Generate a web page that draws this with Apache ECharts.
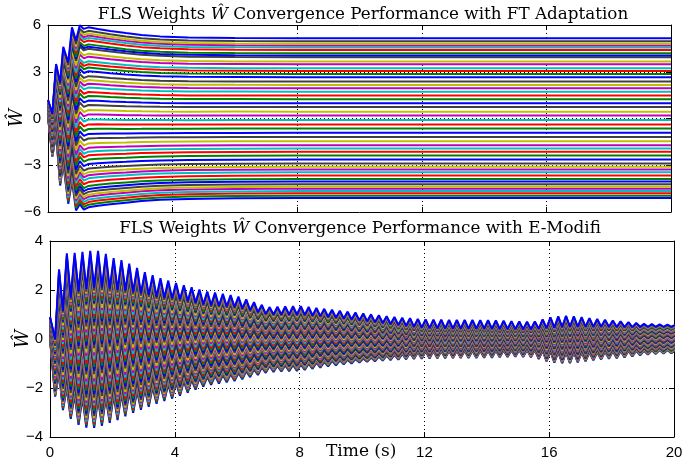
<!DOCTYPE html>
<html>
<head>
<meta charset="utf-8">
<script src="https://cdn.jsdelivr.net/npm/echarts@6/dist/echarts.min.js"></script>
<style>
  html, body { margin: 0; padding: 0; background: #fff; }
  #chart { width: 697px; height: 473px; }
</style>
</head>
<body>
<div id="chart"></div>
<script>
// MATLAB default line colour order
const lineColors = ['#0000ff', '#008000', '#ff0000', '#00bfbf', '#bf00bf', '#bfbf00', '#404040'];

// steady weight levels of the upper plot, bottom to top
const weightLevels = [
  -5.1, -4.95, -4.8, -4.66, -4.5, -4.38, -4.22, -4.05, -3.88, -3.66,
  -3.45, -3.27, -3.1, -2.89, -2.63, -2.38, -2.14, -1.93, -1.71, -1.46,
  -1.18, -0.92, -0.64, -0.38, -0.1,
  0.19, 0.44, 0.73, 0.98, 1.24, 1.47, 1.72, 1.94, 2.15, 2.37,
  2.65, 2.86, 3.05, 3.22, 3.48, 3.65, 3.93, 4.05, 4.18, 4.4,
  4.55, 4.68, 4.8, 4.95, 5.15
];

// upper plot (FT adaptation): outermost weights read at each knot
const ftTime = [0, 0.14, 0.26, 0.39, 0.49, 0.65, 0.77, 0.9, 1.02, 1.15, 1.3, 1.6, 2.0, 2.5, 3.0, 3.6, 4.5, 6, 8, 12, 20];
const ftHigh = [1.2, 0.3, 3.5, 2.3, 4.6, 3.6, 5.85, 5.0, 5.98, 5.75, 5.85, 5.75, 5.62, 5.48, 5.36, 5.27, 5.2, 5.17, 5.15, 5.15, 5.15];
const ftLow = [0.1, -2.45, -1.0, -4.3, -2.9, -5.47, -4.0, -5.9, -5.5, -5.85, -5.7, -5.6, -5.5, -5.4, -5.3, -5.22, -5.16, -5.12, -5.1, -5.1, -5.1];

// lower plot (e-modification): start band and envelope of the top / bottom weight
const emStart = [0.0, 0.9];
const emTime = [0.165, 0.29, 0.54, 0.8, 1.05, 1.3, 1.55, 1.8, 2.05, 2.3, 2.5, 3, 3.5, 4, 5, 6, 7, 8, 9, 10, 11, 12, 13, 14, 15, 15.5, 16, 16.5, 17, 17.5, 18, 18.5, 19, 19.5, 20];
const emTopPeak = [2.5, 2.84, 3.5, 3.52, 3.56, 3.6, 3.6, 3.47, 3.29, 3.22, 3.1, 2.75, 2.5, 2.3, 1.95, 1.75, 1.3, 1.35, 1.2, 1.05, 0.9, 0.8, 0.78, 0.77, 0.72, 0.7, 0.88, 0.95, 0.9, 0.82, 0.76, 0.7, 0.62, 0.6, 0.58];
const emTopTrough = [0.0, 0.8, 1.5, 1.9, 2.0, 2.1, 2.1, 2.1, 2.0, 2.0, 1.95, 1.85, 1.7, 1.65, 1.4, 1.3, 1.0, 1.0, 0.9, 0.75, 0.6, 0.45, 0.42, 0.42, 0.4, 0.4, 0.45, 0.5, 0.5, 0.5, 0.5, 0.48, 0.5, 0.5, 0.5];
const emBotPeak = [-0.5, -1.4, -2.0, -2.3, -2.4, -2.45, -2.45, -2.4, -2.3, -2.25, -2.2, -2.05, -1.9, -1.8, -1.55, -1.4, -1.1, -1.05, -0.9, -0.8, -0.65, -0.5, -0.48, -0.48, -0.45, -0.45, -0.5, -0.55, -0.55, -0.55, -0.5, -0.48, -0.48, -0.45, -0.45];
const emBotTrough = [-2.35, -2.7, -3.1, -3.44, -3.58, -3.65, -3.6, -3.47, -3.37, -3.24, -3.1, -2.85, -2.6, -2.4, -1.9, -1.7, -1.35, -1.3, -1.1, -0.95, -0.85, -0.8, -0.78, -0.77, -0.72, -0.75, -0.95, -1.0, -0.95, -0.85, -0.8, -0.75, -0.65, -0.6, -0.58];
const emPeriod = 0.25;   // oscillation period (s), counted off the plot
const emPhase = 0.04;

function envAt(times, vals, t) {
    if (t <= times[0]) return vals[0];
    for (let i = 1; i < times.length; i++) {
        if (t <= times[i]) {
            let r = (t - times[i - 1]) / (times[i] - times[i - 1]);
            return vals[i - 1] + r * (vals[i] - vals[i - 1]);
        }
    }
    return vals[vals.length - 1];
}

const lo = weightLevels[0], hi = weightLevels[weightLevels.length - 1];
const frac = weightLevels.map(v => (v - lo) / (hi - lo));

let series = [];
frac.forEach((g, i) => {
    let color = lineColors[i % lineColors.length];
    // upper plot
    let d1 = ftTime.map((t, k) => [t, ftLow[k] + g * (ftHigh[k] - ftLow[k])]);
    series.push({
        type: 'line', xAxisIndex: 0, yAxisIndex: 0, data: d1, showSymbol: false,
        lineStyle: {color: color, width: 2}, silent: true, animation: false
    });
    // lower plot
    let d2 = [[0, emStart[0] + g * (emStart[1] - emStart[0])]];
    for (let k = 1; emPhase + k * emPeriod / 2 <= 20.1; k++) {
        let t = emPhase + k * emPeriod / 2;
        let v;
        if (k % 2 === 0) {
            let a = envAt(emTime, emBotPeak, t), b = envAt(emTime, emTopPeak, t);
            v = a + g * (b - a);
        } else {
            let a = envAt(emTime, emBotTrough, t), b = envAt(emTime, emTopTrough, t);
            v = a + g * (b - a);
        }
        d2.push([t, v]);
    }
    series.push({
        type: 'line', xAxisIndex: 2, yAxisIndex: 2, data: d2, showSymbol: false,
        lineStyle: {color: color, width: 2}, silent: true, animation: false
    });
});

const tickFont = {fontFamily: 'Liberation Sans', fontSize: 15, color: '#000'};
const minus = v => String(v).replace('-', '\u2212');
const boxLine = {show: true, onZero: false, lineStyle: {color: '#000', width: 1}};
const gridDots = {show: true, lineStyle: {color: '#000', width: 1, type: [1, 3]}};
const tickIn = {show: true, inside: true, length: 5, lineStyle: {color: '#000'}};

function xPair(gi, showLabel) {
    return [
        {type: 'value', gridIndex: gi, min: 0, max: 20, interval: 4, position: 'bottom',
            axisLine: boxLine, axisTick: tickIn, splitLine: gridDots,
            axisLabel: Object.assign({show: showLabel, margin: 8}, tickFont)},
        {type: 'value', gridIndex: gi, min: 0, max: 20, interval: 4, position: 'top',
            axisLine: boxLine, axisTick: tickIn, splitLine: {show: false}, axisLabel: {show: false}}
    ];
}

function yPair(gi, min, max, step) {
    return [
        {type: 'value', gridIndex: gi, min: min, max: max, interval: step, position: 'left',
            axisLine: boxLine, axisTick: tickIn, splitLine: gridDots,
            axisLabel: Object.assign({margin: 7, formatter: minus}, tickFont)},
        {type: 'value', gridIndex: gi, min: min, max: max, interval: step, position: 'right',
            axisLine: boxLine, axisTick: tickIn, splitLine: {show: false}, axisLabel: {show: false}}
    ];
}

const titleRich = {
    a: {fontFamily: 'DejaVu Serif', fontWeight: 'normal', fontSize: 16.75, color: '#000'},
    b: {fontFamily: 'DejaVu Serif', fontWeight: 'normal', fontStyle: 'italic', fontSize: 16.75, color: '#000'}
};

function yName(x, y) {
    return {
        type: 'text', x: x, y: y, rotation: Math.PI / 2,
        style: {text: '\u0174', fontFamily: 'DejaVu Serif', fontStyle: 'italic', fontSize: 18,
            fill: '#000', align: 'center', verticalAlign: 'middle'}
    };
}

let option = {
    backgroundColor: '#fff',
    animation: false,
    title: [
        {text: '{a|FLS Weights }{b|\u0174}{a| Convergence Performance with FT Adaptation}',
            left: 358, top: 1, textAlign: 'center', textStyle: {rich: titleRich}},
        {text: '{a|FLS Weights }{b|\u0174}{a| Convergence Performance with E-Modifi}',
            left: 355, top: 215, textAlign: 'center', textStyle: {rich: titleRich}}
    ],
    grid: [
        {left: 48, right: 26, top: 25, height: 187, outerBoundsMode: 'none'},
        {left: 50, right: 23, top: 241, height: 196, outerBoundsMode: 'none'}
    ],
    xAxis: xPair(0, false).concat(xPair(1, true)),
    yAxis: yPair(0, -6, 6, 3).concat(yPair(1, -4, 4, 2)),
    graphic: [
        yName(17, 118),
        yName(23, 339),
        {
            type: 'text', left: 326, top: 443,
            style: {text: 'Time (s)', fontFamily: 'DejaVu Serif', fontSize: 17, fill: '#000'}
        }
    ],
    series: series
};

let chart = echarts.init(document.getElementById('chart'), null, {renderer: 'canvas'});
chart.setOption(option);
</script>
</body>
</html>
